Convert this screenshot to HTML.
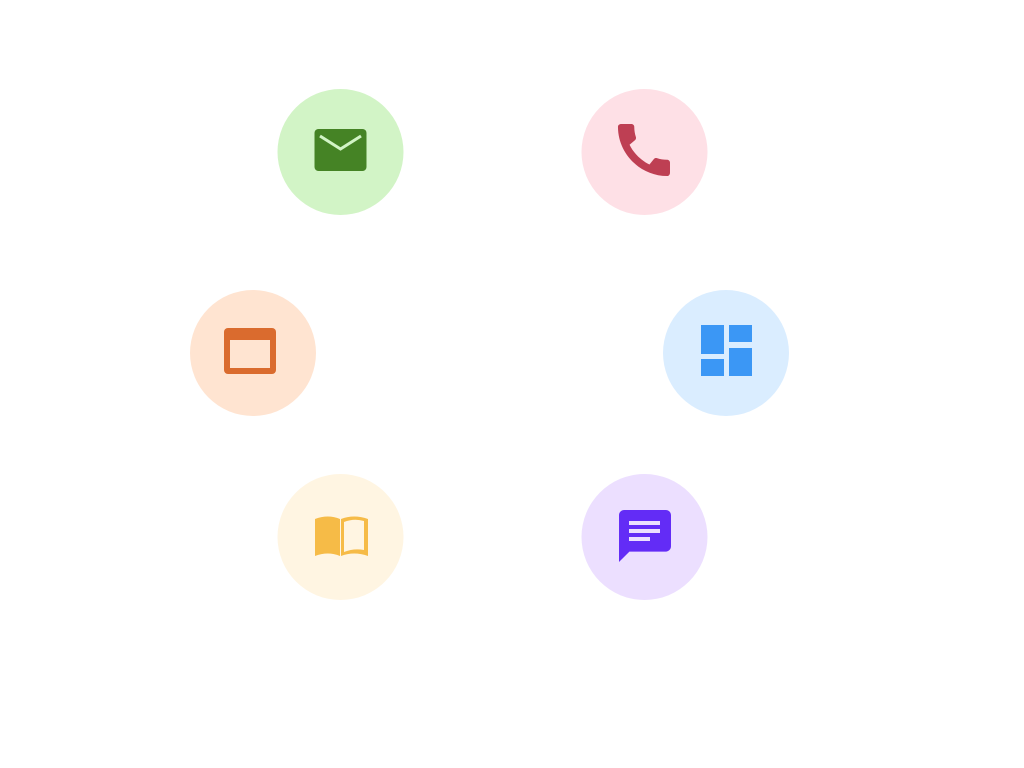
<!DOCTYPE html>
<html><head><meta charset="utf-8"><style>html,body{margin:0;padding:0;background:#fff}svg{display:block}</style></head>
<body>
<svg width="1024" height="768" viewBox="0 0 1024 768" xmlns="http://www.w3.org/2000/svg">
<circle cx="340.5" cy="152" r="63" fill="#D2F4C6"/>
<circle cx="644.5" cy="152" r="63" fill="#FEE0E6"/>
<circle cx="253" cy="353" r="63" fill="#FFE4D1"/>
<circle cx="726" cy="353" r="63" fill="#DAEDFF"/>
<circle cx="340.5" cy="537" r="63" fill="#FFF5E2"/>
<circle cx="644.5" cy="537" r="63" fill="#ECDFFF"/>
<!-- mail -->
<rect x="314.5" y="129" width="52" height="42" rx="4" fill="#458325"/>
<polyline points="320,136 340.5,149 361,136" fill="none" stroke="#D2F4C6" stroke-width="3"/>
<!-- phone -->
<path transform="translate(609.3,115.3) scale(2.89)" fill="#BE3F53" d="M20.01 15.38c-1.23 0-2.42-.2-3.530-.56-.35-.12-.74-.03-1.01.24l-1.57 1.97c-2.83-1.35-5.48-3.9-6.89-6.830l1.95-1.660c.27-.28.35-.67.24-1.02-.37-1.11-.56-2.3-.56-3.53 0-.54-.45-.99-.99-.99H4.19C3.65 3 3 3.24 3 3.99 3 13.28 10.73 21 20.01 21c.71 0 .99-.63.99-1.180v-3.45c0-.54-.45-.99-.99-.99z"/>
<!-- browser -->
<rect x="224" y="328" width="52" height="46" rx="4" fill="#DA6B2E"/>
<rect x="230" y="340" width="40" height="28" fill="#FFE4D1"/>
<!-- dashboard -->
<rect x="701" y="325" width="23" height="29" fill="#3B97F5"/>
<rect x="701" y="359" width="23" height="17" fill="#3B97F5"/>
<rect x="729" y="325" width="23" height="17" fill="#3B97F5"/>
<rect x="729" y="348" width="23" height="28" fill="#3B97F5"/>
<!-- book -->
<path d="M315 519 Q328 514 340 519 L340 556 Q328 551 315 556 Z" fill="#F6BB47"/>
<path d="M341 519 Q354 514 368 519 L368 556 Q354 551 341 556 Z" fill="#F6BB47"/>
<path d="M344 522 Q354 518 364 521 L364 550 Q354 548 344 552 Z" fill="#FFF5E2"/>
<!-- chat -->
<path transform="translate(613.8,504.8) scale(2.6)" fill="#632CF6" d="M20 2H4c-1.1 0-1.99.9-1.99 2L2 22l4-4h14c1.1 0 2-.9 2-2V4c0-1.1-.9-2-2-2z"/>
<rect x="629" y="521" width="31" height="4" fill="#ECDFFF"/>
<rect x="629" y="529" width="31" height="4" fill="#ECDFFF"/>
<rect x="629" y="537" width="21" height="4" fill="#ECDFFF"/>
</svg>
</body></html>
